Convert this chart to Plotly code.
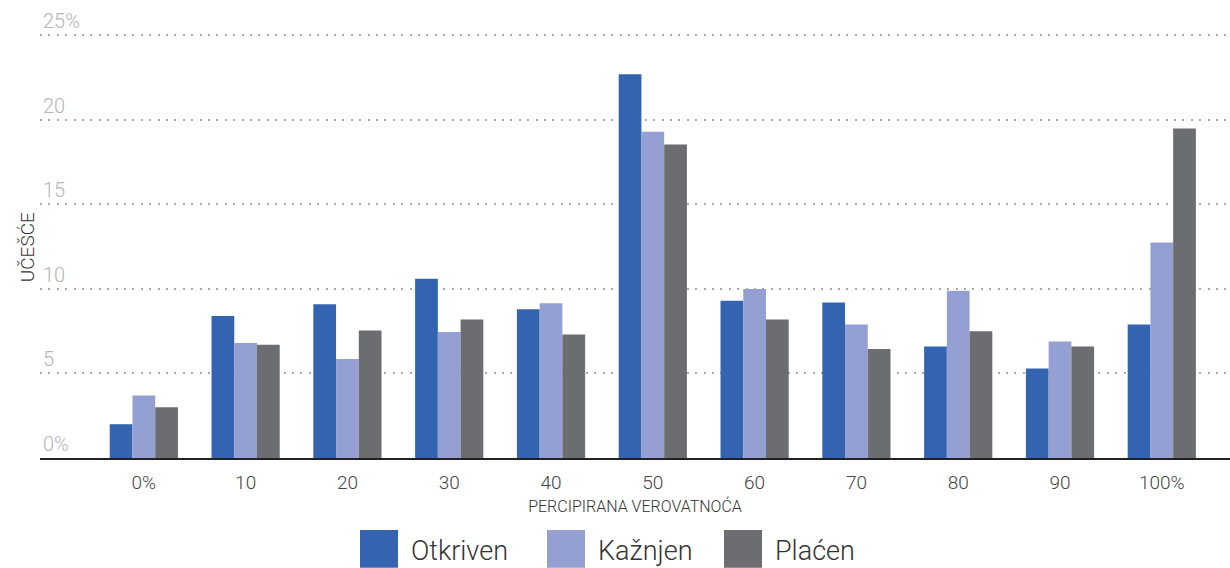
import plotly.graph_objects as go

categories = ["0%", "10", "20", "30", "40", "50", "60", "70", "80", "90", "100%"]
otkriven = [2.0, 8.4, 9.1, 10.6, 8.8, 22.7, 9.3, 9.2, 6.6, 5.3, 7.9]
kaznjen = [3.7, 6.8, 5.85, 7.45, 9.15, 19.3, 10.0, 7.9, 9.9, 6.9, 12.75]
placen = [3.0, 6.7, 7.55, 8.2, 7.3, 18.55, 8.2, 6.45, 7.5, 6.6, 19.5]
series_names = ["Otkriven", "Kažnjen", "Plaćen"]
colors = ["#3464b0", "#94a0d1", "#6c6d71"]
y_tickvals = [0, 5, 10, 15, 20, 25]
y_ticktext = ["0%", "5", "10", "15", "20", "25%"]

W, H = 1230, 568
L, R, T, B = 40, 0, 26.5, 110
PW, PH = W - L - R, H - T - B

def px2x(px):
    return (px - L) / PW

def py2y(py):
    return (H - B - py) / PH

FONT = "Roboto"
fig = go.Figure()
for name, vals, c in zip(series_names, [otkriven, kaznjen, placen], colors):
    fig.add_trace(go.Bar(x=categories, y=vals, name=name, marker=dict(color=c, line=dict(width=0)),
                         showlegend=False))

fig.update_layout(
    width=W, height=H,
    margin=dict(l=L, r=R, t=T, b=B),
    paper_bgcolor="white", plot_bgcolor="white",
    barmode="group", bargap=0.33, bargroupgap=0,
    font=dict(family=FONT, color="#333333"),
    xaxis=dict(
        type="category", range=[-1.02, 10.67],
        showline=True, linecolor="#222222", linewidth=1.5,
        showgrid=False, ticks="", ticklabelstandoff=6,
        tickfont=dict(size=19, color="#444444", family=FONT, weight=300),
        title=dict(text="PERCIPIRANA VEROVATNOĆA", standoff=8,
                   font=dict(size=16, color="#333333", family=FONT, weight=300)),
    ),
    yaxis=dict(
        range=[0, 25.5], tickvals=y_tickvals, ticktext=y_ticktext,
        ticklabelposition="inside top", ticklabeloverflow="allow",
        tickfont=dict(size=20, color="#b4b4b4", family=FONT, weight=300),
        showgrid=True, gridcolor="#a9a9a9", gridwidth=1.6, griddash="2px,6.4px",
        zeroline=False, showline=False, ticks="",
    ),
)

annotations = [
    dict(text="UČEŠĆE", xref="paper", yref="paper", x=px2x(27), y=py2y(247),
         textangle=-90, showarrow=False, xanchor="center", yanchor="middle",
         font=dict(size=19, color="#333333", family=FONT, weight=300)),
]
shapes = []
sq_left = [360, 547, 724]
for name, c, sx in zip(series_names, colors, sq_left):
    shapes.append(dict(type="rect", xref="paper", yref="paper",
                       x0=px2x(sx), x1=px2x(sx + 38), y0=py2y(530), y1=py2y(568),
                       fillcolor=c, line=dict(width=0)))
    annotations.append(dict(text=name, xref="paper", yref="paper", x=px2x(sx + 49), y=py2y(551),
                            xanchor="left", yanchor="middle", showarrow=False,
                            font=dict(size=27, color="#333333", family=FONT, weight=300)))
fig.update_layout(annotations=annotations, shapes=shapes)

fig.write_html("out.html", config={"displayModeBar": False},
               post_script="document.body.style.margin='0px';document.body.style.overflow='hidden';")
